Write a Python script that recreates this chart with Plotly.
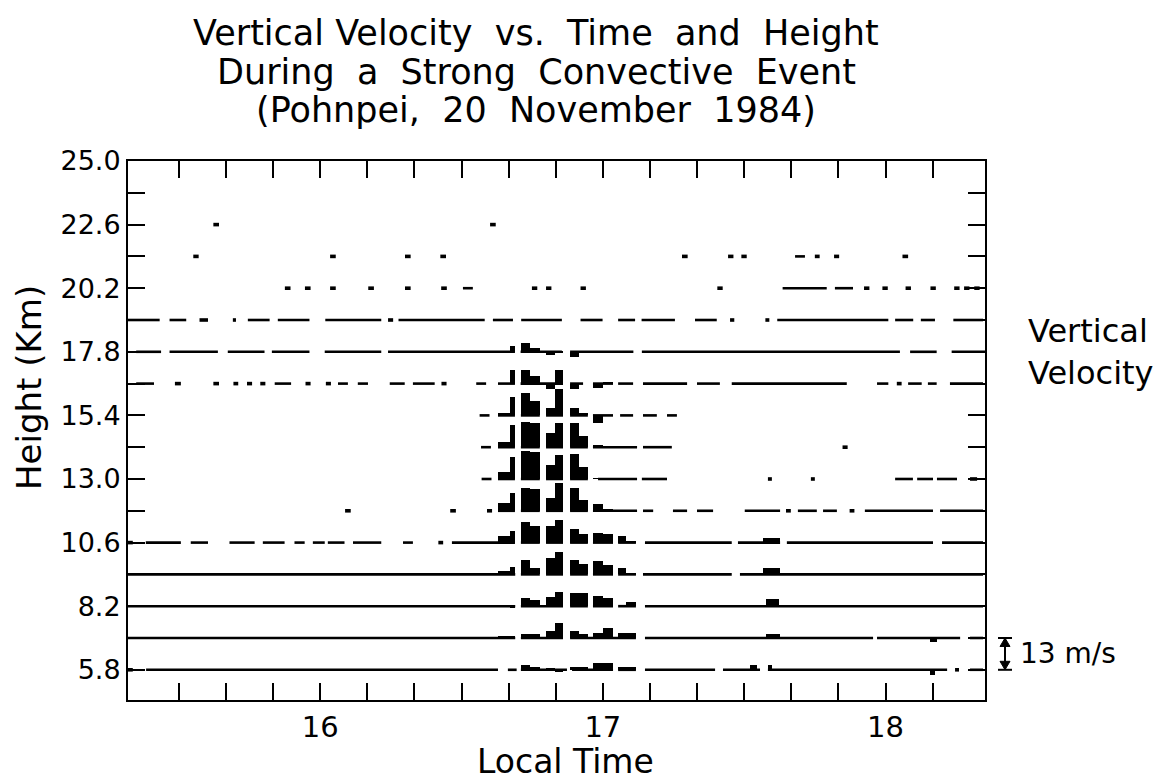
import numpy as np
import plotly.graph_objects as go

# ---------------- data ----------------
# Range-gate heights (km); each gate has its own zero line
heights = [5.8, 7.0, 8.2, 9.4, 10.6, 11.8, 13.0, 14.2, 15.4, 16.6, 17.8, 19.0, 20.2, 21.4, 22.6]

# Sampling blocks during the convective event (local time, h): start / end
col_start = [16.629, 16.670, 16.710, 16.741, 16.799, 16.830, 16.884, 16.914, 16.965, 17.000, 17.054, 17.083]
col_end   = [16.670, 16.689, 16.741, 16.777, 16.830, 16.859, 16.914, 16.947, 17.000, 17.036, 17.083, 17.117]

# Vertical velocity (m/s) in each block, per gate
vel_5_8  = [0.0, 0.0, 2.0, 1.0, 0.7, -0.8, 1.0, 1.0, 2.7, 2.7, 1.3, 1.3]
vel_7_0  = [0.5, 1.0, 1.6, 1.6, 2.7, 6.0, 2.7, 1.6, 2.0, 4.0, 2.0, 2.0]
vel_8_2  = [0.0, -0.5, 3.2, 2.6, 3.9, 5.7, 5.3, 5.3, 4.3, 3.2, 0.0, 1.9]
vel_9_4  = [1.3, 3.0, 5.7, 2.7, 6.8, 9.0, 5.7, 4.3, 5.4, 4.0, 2.7, 0.7]
vel_10_6 = [2.7, 4.7, 8.5, 6.8, 6.8, 9.4, 5.4, 3.4, 4.0, 3.4, 2.7, 0.7]
vel_11_8 = [3.1, 7.2, 9.2, 9.0, 5.1, 11.2, 9.2, 4.5, 2.6, 0.8, 0.3, 0.3]
vel_13_0 = [3.0, 9.0, 11.5, 11.0, 5.7, 9.7, 10.4, 5.0, 0.3, 0.3, 0.3, 0.3]
vel_14_2 = [2.0, 9.2, 10.5, 10.0, 6.0, 10.0, 10.0, 4.7, 0.7, 0.0, 0.0, 0.0]
vel_15_4 = [1.0, 7.7, 9.0, 5.7, 3.0, 10.7, 3.2, 1.0, -3.1, 0.0, 0.0, 0.0]
vel_16_6 = [0.0, 5.5, 5.5, 3.2, -2.2, 5.7, -2.4, 0.0, -2.0, 0.5, 0.0, 0.0]
vel_17_8 = [0.0, 2.5, 3.8, 1.5, -1.3, -0.5, -2.0, 0.0, 0.0, 0.0, 0.0, 0.0]

# Other non-zero velocity episodes: [start, end, m/s]
bump_5_8  = [[17.520, 17.545, 2.0], [17.584, 17.600, 2.0], [18.157, 18.175, -2.0]]
bump_7_0  = [[17.578, 17.627, 1.6], [18.159, 18.182, -1.6]]
bump_8_2  = [[17.578, 17.622, 2.8]]
bump_9_4  = [[17.567, 17.627, 2.7]]
bump_10_6 = [[17.567, 17.627, 2.0]]

# Periods with valid data at each gate: [start, end] (local time, h)
seg_5_8 = [[15.320, 15.337], [15.384, 16.629], [16.664, 16.695], [16.710, 16.873], [16.891, 17.036],
           [17.054, 17.117], [17.149, 17.397], [17.425, 17.556], [17.584, 18.218], [18.246, 18.260],
           [18.299, 18.345]]
seg_7_0 = [[15.320, 16.690], [16.710, 16.859], [16.884, 17.117], [17.149, 17.956], [17.970, 18.264],
           [18.299, 18.345]]
seg_8_2 = [[15.320, 16.690], [16.710, 16.859], [16.884, 16.947], [16.965, 17.036], [17.054, 17.117],
           [17.149, 18.345]]
seg_9_4 = [[15.320, 16.690], [16.710, 16.777], [16.799, 16.859], [16.884, 16.947], [16.965, 17.036],
           [17.054, 17.117], [17.142, 17.456], [17.485, 18.345]]
seg_10_6 = [[15.320, 15.337], [15.383, 15.507], [15.542, 15.603], [15.679, 15.768], [15.797, 15.874],
            [15.909, 15.945], [15.974, 16.016], [16.027, 16.086], [16.116, 16.216], [16.293, 16.328],
            [16.418, 16.435], [16.466, 16.689], [16.710, 16.777], [16.799, 16.859], [16.884, 16.947],
            [16.965, 17.036], [17.054, 17.117], [17.149, 17.456], [17.478, 17.627], [17.651, 18.168],
            [18.200, 18.345]]
seg_11_8 = [[16.088, 16.108], [16.460, 16.480], [16.590, 16.608], [16.629, 16.689], [16.710, 16.777],
            [16.799, 16.859], [16.884, 16.947], [16.965, 17.121], [17.142, 17.178], [17.248, 17.298],
            [17.333, 17.390], [17.502, 17.627], [17.648, 17.665], [17.690, 17.757], [17.779, 17.828],
            [17.873, 17.890], [17.927, 18.168], [18.193, 18.345]]
seg_13_0 = [[16.571, 16.606], [16.629, 16.689], [16.710, 16.777], [16.799, 16.859], [16.884, 16.947],
            [16.983, 17.121], [17.138, 17.227], [17.584, 17.598], [17.736, 17.750], [18.034, 18.097],
            [18.112, 18.168], [18.182, 18.253], [18.299, 18.324]]
seg_14_2 = [[16.569, 16.604], [16.629, 16.689], [16.710, 16.777], [16.799, 16.859], [16.884, 16.947],
            [16.965, 17.121], [17.142, 17.244], [17.848, 17.866]]
seg_15_4 = [[16.564, 16.599], [16.629, 16.689], [16.710, 16.777], [16.799, 16.859], [16.884, 16.947],
            [16.965, 17.036], [17.061, 17.107], [17.142, 17.191], [17.227, 17.262]]
seg_16_6 = [[15.349, 15.412], [15.486, 15.507], [15.622, 15.642], [15.693, 15.710], [15.741, 15.759],
            [15.788, 15.806], [15.839, 15.897], [15.948, 15.966], [16.020, 16.038], [16.063, 16.098],
            [16.133, 16.169], [16.246, 16.299], [16.328, 16.405], [16.429, 16.447], [16.552, 16.587],
            [16.629, 16.689], [16.709, 16.859], [16.884, 16.930], [16.965, 17.036], [17.054, 17.107],
            [17.142, 17.298], [17.333, 17.414], [17.456, 17.863], [17.970, 18.010], [18.040, 18.057],
            [18.080, 18.128], [18.150, 18.181], [18.228, 18.345]]
seg_17_8 = [[15.349, 15.437], [15.467, 15.638], [15.673, 15.803], [15.829, 15.962], [16.016, 16.216],
            [16.240, 16.689], [16.709, 16.855], [16.884, 17.108], [17.138, 18.051], [18.087, 18.181],
            [18.234, 18.352]]
seg_19_0 = [[15.320, 15.432], [15.467, 15.526], [15.573, 15.603], [15.691, 15.702], [15.744, 15.821],
            [15.850, 15.962], [16.018, 16.216], [16.240, 16.258], [16.277, 16.582], [16.611, 16.682],
            [16.711, 16.855], [16.921, 16.999], [17.054, 17.114], [17.137, 17.255], [17.326, 17.403],
            [17.450, 17.465], [17.575, 17.589], [17.617, 18.010], [18.034, 18.098], [18.125, 18.175],
            [18.240, 18.345]]
seg_20_2 = [[15.875, 15.895], [15.946, 15.966], [16.035, 16.055], [16.170, 16.190], [16.300, 16.320],
            [16.428, 16.448], [16.505, 16.540], [16.749, 16.768], [16.799, 16.818], [16.921, 16.940],
            [17.405, 17.424], [17.636, 17.792], [17.821, 17.885], [17.924, 17.943], [17.989, 18.008],
            [18.071, 18.090], [18.159, 18.178], [18.243, 18.262], [18.278, 18.297], [18.314, 18.333]]
seg_21_4 = [[15.551, 15.570], [16.035, 16.055], [16.300, 16.320], [16.425, 16.445], [17.280, 17.300],
            [17.443, 17.462], [17.490, 17.509], [17.680, 17.715], [17.750, 17.767], [17.818, 17.836],
            [18.060, 18.080]]
seg_22_6 = [[15.622, 15.642], [16.601, 16.621]]

# Axis ticks
x_tick_vals = [15.5, 15.6667, 15.8333, 16.0, 16.1667, 16.3333, 16.5, 16.6667, 16.8333,
               17.0, 17.1667, 17.3333, 17.5, 17.6667, 17.8333, 18.0, 18.1667]
x_tick_text = ["", "", "", "16", "", "", "", "", "", "17", "", "", "", "", "", "18", ""]
y_tick_vals = [5.8, 7.0, 8.2, 9.4, 10.6, 11.8, 13.0, 14.2, 15.4, 16.6, 17.8, 19.0, 20.2, 21.4,
               22.6, 23.8, 25.0]
y_tick_text = ["5.8", "", "8.2", "", "10.6", "", "13.0", "", "15.4", "", "17.8", "", "20.2", "",
               "22.6", "", "25.0"]

SCALE_MS = 13.0          # m/s represented by one gate spacing
GATE_KM = 1.2            # gate spacing (km)

# ---------------- build the figure ----------------
rows = [
    (5.8, seg_5_8, vel_5_8, bump_5_8),
    (7.0, seg_7_0, vel_7_0, bump_7_0),
    (8.2, seg_8_2, vel_8_2, bump_8_2),
    (9.4, seg_9_4, vel_9_4, bump_9_4),
    (10.6, seg_10_6, vel_10_6, bump_10_6),
    (11.8, seg_11_8, vel_11_8, []),
    (13.0, seg_13_0, vel_13_0, []),
    (14.2, seg_14_2, vel_14_2, []),
    (15.4, seg_15_4, vel_15_4, []),
    (16.6, seg_16_6, vel_16_6, []),
    (17.8, seg_17_8, vel_17_8, []),
    (19.0, seg_19_0, None, []),
    (20.2, seg_20_2, None, []),
    (21.4, seg_21_4, None, []),
    (22.6, seg_22_6, None, []),
]

km_per_ms = GATE_KM / SCALE_MS

line_x, line_y = [], []      # longer data periods
dot_x, dot_y = [], []        # isolated short samples (drawn a bit heavier)
bar_x, bar_w, bar_base, bar_h = [], [], [], []
for h, segs, vels, bumps in rows:
    for a, b in segs:
        if b - a < 0.03:
            dot_x += [a, b, None]
            dot_y += [h, h, None]
        else:
            line_x += [a, b, None]
            line_y += [h, h, None]
    blocks = []
    if vels is not None:
        blocks += [[s, e, v] for s, e, v in zip(col_start, col_end, vels)]
    blocks += bumps
    for s, e, v in blocks:
        if v != 0:
            bar_x.append((s + e) / 2)
            bar_w.append(e - s)
            bar_base.append(h)
            bar_h.append(v * km_per_ms)

fig = go.Figure()
fig.add_trace(go.Scatter(x=line_x, y=line_y, mode="lines",
                         line=dict(color="black", width=2.6), hoverinfo="skip",
                         showlegend=False))
fig.add_trace(go.Scatter(x=dot_x, y=dot_y, mode="lines",
                         line=dict(color="black", width=3.6), hoverinfo="skip",
                         showlegend=False))
fig.add_trace(go.Bar(x=bar_x, y=bar_h, base=bar_base, width=bar_w,
                     marker=dict(color="black", line=dict(width=0)),
                     showlegend=False, hoverinfo="skip"))

FONT = "DejaVu Sans"
axis_common = dict(showline=True, linecolor="black", linewidth=2, mirror="ticks",
                   ticks="inside", ticklen=17, tickwidth=1.6, tickcolor="black",
                   showgrid=False, zeroline=False)

fig.update_layout(
    width=1170, height=784,
    margin=dict(l=128, r=185, t=161, b=84),
    paper_bgcolor="white", plot_bgcolor="white",
    barmode="overlay", bargap=0,
    font=dict(family=FONT, color="black"),
    xaxis=dict(range=[15.32, 18.352], tickmode="array", tickvals=x_tick_vals,
               ticktext=x_tick_text, tickfont=dict(family=FONT, size=29, color="black"),
               **axis_common),
    yaxis=dict(range=[4.66, 25.0], tickmode="array", tickvals=y_tick_vals,
               ticktext=y_tick_text, tickfont=dict(family=FONT, size=27, color="black"),
               **axis_common),
)

def px_x(p):
    return (p - 128) / 857.0

def px_y(p):
    return (700 - p) / 539.0

annotations = [
    dict(text="Vertical Velocity  vs.  Time  and  Height", x=px_x(536), y=px_y(33)),
    dict(text="During  a  Strong  Convective  Event", x=px_x(536), y=px_y(72)),
    dict(text="(Pohnpei,  20  November  1984)", x=px_x(536), y=px_y(110)),
]
anns = []
for a in annotations:
    anns.append(dict(text=a["text"], x=a["x"], y=a["y"], xref="paper", yref="paper",
                     xanchor="center", yanchor="middle", showarrow=False,
                     font=dict(family=FONT, size=35, color="black")))
anns.append(dict(text="Local Time", x=px_x(565), y=px_y(761), xref="paper", yref="paper",
                 xanchor="center", yanchor="middle", showarrow=False,
                 font=dict(family=FONT, size=33, color="black")))
anns.append(dict(text="Height (Km)", x=px_x(29), y=px_y(388), xref="paper", yref="paper",
                 xanchor="center", yanchor="middle", showarrow=False, textangle=-90,
                 font=dict(family=FONT, size=34, color="black")))
anns.append(dict(text="Vertical<br>Velocity", x=px_x(1026), y=px_y(352), xref="paper",
                 yref="paper", xanchor="left", yanchor="middle", showarrow=False, align="left",
                 font=dict(family=FONT, size=32, color="black")))
anns.append(dict(text="13 m/s", x=px_x(1018), y=6.4, xref="paper", yref="y",
                 xanchor="left", yanchor="middle", showarrow=False,
                 font=dict(family=FONT, size=28, color="black")))
fig.update_layout(annotations=anns)

# scale bar: 13 m/s == one gate spacing (7.0 -> 5.8 km)
bx = px_x(1005)
cap = 7.0 / 857.0
head = 5.0 / 857.0
arrow_km = 0.32
shapes = [
    dict(type="line", xref="paper", yref="y", x0=bx, x1=bx, y0=5.8, y1=7.0,
         line=dict(color="black", width=2)),
    dict(type="line", xref="paper", yref="y", x0=bx - cap, x1=bx + cap, y0=7.0, y1=7.0,
         line=dict(color="black", width=2)),
    dict(type="line", xref="paper", yref="y", x0=bx - cap, x1=bx + cap, y0=5.8, y1=5.8,
         line=dict(color="black", width=2)),
    dict(type="path", xref="paper", yref="y",
         path=f"M {bx},{7.0} L {bx - head},{7.0 - arrow_km} L {bx + head},{7.0 - arrow_km} Z",
         fillcolor="black", line=dict(color="black", width=1)),
    dict(type="path", xref="paper", yref="y",
         path=f"M {bx},{5.8} L {bx - head},{5.8 + arrow_km} L {bx + head},{5.8 + arrow_km} Z",
         fillcolor="black", line=dict(color="black", width=1)),
]
fig.update_layout(shapes=shapes)

fig.write_html("out.html", config={"displayModeBar": False},
               post_script="document.body.style.margin='0px';document.body.style.padding='0px';")
